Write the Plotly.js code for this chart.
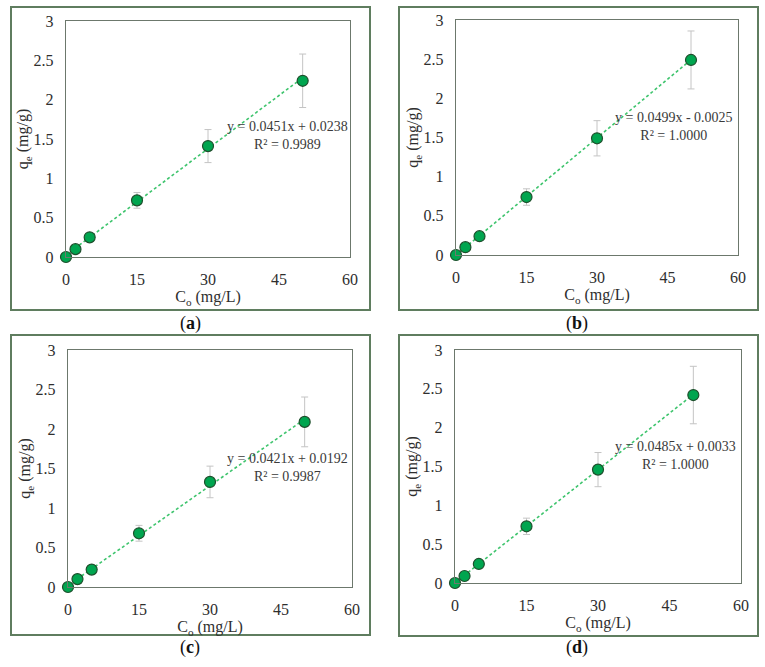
<!DOCTYPE html>
<html>
<head>
<meta charset="utf-8">
<script src="https://cdn.plot.ly/plotly-3.0.1.min.js"></script>
<style>
  html, body { margin: 0; padding: 0; background: #ffffff; }
  #chart { width: 765px; height: 667px; }
</style>
</head>
<body>
<div id="chart"></div>
<script>
// Initial concentration (mg/L)
const conc = [0, 2, 5, 15, 30, 50];

// Adsorbed amount q_e (mg/g) for each panel
const qeA = [0, 0.10, 0.25, 0.72, 1.41, 2.24];
const qeB = [0, 0.10, 0.24, 0.74, 1.49, 2.49];
const qeC = [0, 0.10, 0.22, 0.68, 1.33, 2.09];
const qeD = [0, 0.09, 0.245, 0.73, 1.46, 2.42];

// Standard deviations
const errA = [0, 0.01, 0.02, 0.10, 0.21, 0.34];
const errB = [0, 0.01, 0.02, 0.105, 0.225, 0.37];
const errC = [0, 0.01, 0.02, 0.10, 0.20, 0.315];
const errD = [0, 0.01, 0.02, 0.105, 0.22, 0.37];

// Linear fits: slope, intercept, R²
const slopes = [0.0451, 0.0499, 0.0421, 0.0485];
const intercepts = [0.0238, -0.0025, 0.0192, 0.0033];
const r2 = ["0.9989", "1.0000", "0.9987", "1.0000"];
const panelLetters = ["a", "b", "c", "d"];

const xTicks = [0, 15, 30, 45, 60];
const yTicks = [0, 0.5, 1, 1.5, 2, 2.5, 3];

const series = [qeA, qeB, qeC, qeD];
const errors = [errA, errB, errC, errD];

// Panel geometry in pixels (plot area and outer frame)
const W = 765, H = 667;
const plotBoxes = [
  {x0: 66, x1: 350, y0: 21, y1: 257},
  {x0: 456, x1: 738, y0: 20, y1: 255},
  {x0: 68, x1: 352, y0: 350, y1: 587},
  {x0: 455, x1: 741, y0: 350, y1: 583}
];
const frames = [
  {x0: 11, x1: 370, y0: 7, y1: 310},
  {x0: 399, x1: 758, y0: 7, y1: 310},
  {x0: 11, x1: 370, y0: 335, y1: 635},
  {x0: 399, x1: 758, y0: 335, y1: 636}
];
const captionPos = [
  {x: 190, y: 323}, {x: 577, y: 323}, {x: 190, y: 647}, {x: 577, y: 647}
];
// Equation label anchor (data coords) per panel
const eqPos = [
  {x: 46.9, y: 1.55}, {x: 46.4, y: 1.64}, {x: 46.4, y: 1.51}, {x: 46.2, y: 1.64}
];

const FONT = "Liberation Serif, Times New Roman, serif";
const frameColor = "#5f7d5f";
const axisColor = "#6c786c";
const textColor = "#2e2e2e";

const traces = [];
const layout = {
  width: W, height: H,
  margin: {l: 0, r: 0, t: 0, b: 0},
  paper_bgcolor: "#ffffff",
  plot_bgcolor: "#ffffff",
  showlegend: false,
  font: {family: FONT, size: 16, color: textColor},
  shapes: [],
  annotations: []
};

for (let i = 0; i < 4; i++) {
  const n = i === 0 ? "" : String(i + 1);
  const xa = "x" + n, ya = "y" + n;
  const pb = plotBoxes[i];

  // fitted trend line over the data range
  const xFit = [conc[0], conc[conc.length - 1]];
  const yFit = xFit.map(v => slopes[i] * v + intercepts[i]);
  traces.push({
    x: xFit, y: yFit, xaxis: xa, yaxis: ya,
    mode: "lines", type: "scatter", hoverinfo: "skip",
    line: {color: "#3ec46d", width: 1.6, dash: "3px,2.5px"},
    cliponaxis: false
  });

  // measured points with error bars
  traces.push({
    x: conc, y: series[i], xaxis: xa, yaxis: ya,
    mode: "markers", type: "scatter",
    marker: {size: 11, color: "#00a54f", line: {color: "#1e4f2c", width: 1.2}},
    error_y: {type: "data", array: errors[i], visible: true,
              color: "#c4c4c4", thickness: 1, width: 3.5},
    cliponaxis: false
  });

  const axBase = {
    showgrid: false, zeroline: false,
    showline: true, mirror: true, linecolor: axisColor, linewidth: 1.2,
    ticks: "", tickfont: {family: FONT, size: 16, color: textColor},
    fixedrange: true
  };
  layout["xaxis" + n] = Object.assign({}, axBase, {
    domain: [pb.x0 / W, pb.x1 / W],
    anchor: ya, range: [0, 60], tickvals: xTicks, ticktext: xTicks.map(String),
    ticklabelstandoff: 8,
    title: {text: "C<sub>o</sub> (mg/L)", font: {family: FONT, size: 16, color: textColor}, standoff: 1}
  });
  layout["yaxis" + n] = Object.assign({}, axBase, {
    domain: [1 - pb.y1 / H, 1 - pb.y0 / H],
    anchor: xa, range: [0, 3], tickvals: yTicks, ticktext: yTicks.map(String),
    ticklabelstandoff: 8,
    title: {text: "q<sub>e</sub> (mg/g)", font: {family: FONT, size: 16, color: textColor}, standoff: 0}
  });

  // outer panel frame
  const fr = frames[i];
  layout.shapes.push({
    type: "rect", xref: "paper", yref: "paper",
    x0: fr.x0 / W, x1: fr.x1 / W, y0: 1 - fr.y1 / H, y1: 1 - fr.y0 / H,
    line: {color: frameColor, width: 2}, fillcolor: "rgba(0,0,0,0)", layer: "below"
  });

  // regression equation
  const sign = intercepts[i] < 0 ? "-" : "+";
  layout.annotations.push({
    xref: xa, yref: ya, x: eqPos[i].x, y: eqPos[i].y,
    text: "y = " + slopes[i].toFixed(4) + "x " + sign + " " + Math.abs(intercepts[i]).toFixed(4) +
          "<br>R² = " + r2[i],
    showarrow: false, align: "center", xanchor: "center", yanchor: "middle",
    font: {family: FONT, size: 14, color: "#3a3a3a"}
  });

  // panel caption
  layout.annotations.push({
    xref: "paper", yref: "paper",
    x: captionPos[i].x / W, y: 1 - captionPos[i].y / H,
    text: "(<b>" + panelLetters[i] + "</b>)",
    showarrow: false, xanchor: "center", yanchor: "middle",
    font: {family: FONT, size: 18, color: "#111111"}
  });
}

Plotly.newPlot("chart", traces, layout, {displayModeBar: false, staticPlot: true});
</script>
</body>
</html>
